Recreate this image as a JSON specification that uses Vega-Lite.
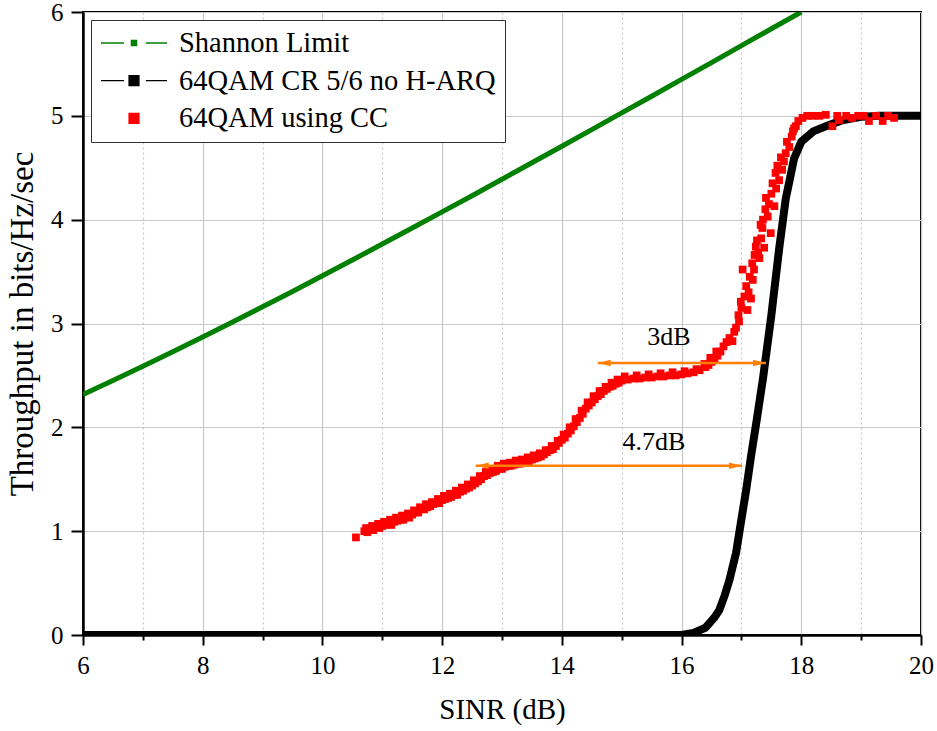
{
  "$schema": "https://vega.github.io/schema/vega-lite/v6.json",
  "autosize": {"type": "none"},
  "padding": {"left": 83, "top": 12, "right": 15, "bottom": 96},
  "width": 838,
  "height": 623,
  "background": "white",
  "config": {
    "view": {"stroke": "black", "strokeWidth": 2},
    "font": "Liberation Serif",
    "axis": {
      "labelFont": "Liberation Serif",
      "titleFont": "Liberation Serif",
      "labelColor": "black",
      "titleColor": "black",
      "titleFontWeight": "normal",
      "domainColor": "black",
      "domainWidth": 2.5,
      "tickColor": "black",
      "tickWidth": 2,
      "gridColor": "#c8c8c8",
      "gridWidth": 1.2
    }
  },
  "datasets": {
    "shannon": [
      {"x": 6, "y": 2.316}, {"x": 6.5, "y": 2.451}, {"x": 7, "y": 2.588}, {"x": 7.5, "y": 2.728},
      {"x": 8, "y": 2.870}, {"x": 8.5, "y": 3.014}, {"x": 9, "y": 3.161}, {"x": 9.5, "y": 3.309},
      {"x": 10, "y": 3.459}, {"x": 10.5, "y": 3.611}, {"x": 11, "y": 3.765}, {"x": 11.5, "y": 3.919},
      {"x": 12, "y": 4.075}, {"x": 12.5, "y": 4.231}, {"x": 13, "y": 4.389}, {"x": 13.5, "y": 4.548},
      {"x": 14, "y": 4.707}, {"x": 14.5, "y": 4.867}, {"x": 15, "y": 5.028}, {"x": 15.5, "y": 5.189},
      {"x": 16, "y": 5.351}, {"x": 16.5, "y": 5.513}, {"x": 17, "y": 5.676}, {"x": 17.5, "y": 5.839},
      {"x": 18, "y": 6.0}
    ],
    "black": [
      {"x": 6, "y": 0}, {"x": 16.0, "y": 0}, {"x": 16.2, "y": 0.02}, {"x": 16.4, "y": 0.07},
      {"x": 16.55, "y": 0.17}, {"x": 16.63, "y": 0.24}, {"x": 16.72, "y": 0.38}, {"x": 16.8, "y": 0.53},
      {"x": 16.91, "y": 0.79}, {"x": 16.99, "y": 1.08}, {"x": 17.08, "y": 1.4}, {"x": 17.16, "y": 1.72},
      {"x": 17.25, "y": 2.05}, {"x": 17.36, "y": 2.47}, {"x": 17.5, "y": 3.08}, {"x": 17.63, "y": 3.72},
      {"x": 17.74, "y": 4.2}, {"x": 17.88, "y": 4.59}, {"x": 18.0, "y": 4.75}, {"x": 18.2, "y": 4.85},
      {"x": 18.41, "y": 4.9}, {"x": 18.7, "y": 4.96}, {"x": 19.0, "y": 4.99}, {"x": 19.3, "y": 5.0},
      {"x": 20, "y": 5.0}
    ],
    "red": [
      {"x": 10.56, "y": 0.94}, {"x": 10.7, "y": 1.0}, {"x": 10.75, "y": 0.99}, {"x": 10.8, "y": 1.02},
      {"x": 10.85, "y": 1.01}, {"x": 10.9, "y": 1.04}, {"x": 10.95, "y": 1.03}, {"x": 11.0, "y": 1.05},
      {"x": 11.05, "y": 1.06}, {"x": 11.1, "y": 1.07}, {"x": 11.15, "y": 1.06}, {"x": 11.2, "y": 1.09},
      {"x": 11.25, "y": 1.1}, {"x": 11.3, "y": 1.11}, {"x": 11.35, "y": 1.11}, {"x": 11.4, "y": 1.14},
      {"x": 11.45, "y": 1.13}, {"x": 11.5, "y": 1.16}, {"x": 11.55, "y": 1.18}, {"x": 11.6, "y": 1.18},
      {"x": 11.65, "y": 1.21}, {"x": 11.7, "y": 1.21}, {"x": 11.75, "y": 1.23}, {"x": 11.8, "y": 1.24},
      {"x": 11.85, "y": 1.26}, {"x": 11.9, "y": 1.27}, {"x": 11.95, "y": 1.27}, {"x": 12.0, "y": 1.3},
      {"x": 12.05, "y": 1.31}, {"x": 12.1, "y": 1.32}, {"x": 12.15, "y": 1.33}, {"x": 12.2, "y": 1.35},
      {"x": 12.25, "y": 1.35}, {"x": 12.3, "y": 1.38}, {"x": 12.35, "y": 1.39}, {"x": 12.4, "y": 1.41},
      {"x": 12.45, "y": 1.42}, {"x": 12.5, "y": 1.44}, {"x": 12.55, "y": 1.46}, {"x": 12.6, "y": 1.48},
      {"x": 12.65, "y": 1.5}, {"x": 12.7, "y": 1.53}, {"x": 12.75, "y": 1.54}, {"x": 12.8, "y": 1.56},
      {"x": 12.85, "y": 1.57}, {"x": 12.9, "y": 1.58}, {"x": 12.95, "y": 1.6}, {"x": 13.0, "y": 1.6},
      {"x": 13.05, "y": 1.62}, {"x": 13.1, "y": 1.63}, {"x": 13.15, "y": 1.63}, {"x": 13.2, "y": 1.64},
      {"x": 13.25, "y": 1.65}, {"x": 13.3, "y": 1.65}, {"x": 13.35, "y": 1.66}, {"x": 13.4, "y": 1.67},
      {"x": 13.45, "y": 1.67}, {"x": 13.5, "y": 1.69}, {"x": 13.55, "y": 1.7}, {"x": 13.6, "y": 1.71},
      {"x": 13.65, "y": 1.72}, {"x": 13.7, "y": 1.74}, {"x": 13.75, "y": 1.76}, {"x": 13.8, "y": 1.78},
      {"x": 13.85, "y": 1.79}, {"x": 13.9, "y": 1.82}, {"x": 13.95, "y": 1.85}, {"x": 14.0, "y": 1.88},
      {"x": 14.05, "y": 1.9}, {"x": 14.1, "y": 1.94}, {"x": 14.15, "y": 1.97}, {"x": 14.2, "y": 2.01},
      {"x": 14.25, "y": 2.05}, {"x": 14.3, "y": 2.09}, {"x": 14.35, "y": 2.13}, {"x": 14.4, "y": 2.18},
      {"x": 14.45, "y": 2.21}, {"x": 14.5, "y": 2.24}, {"x": 14.55, "y": 2.27}, {"x": 14.6, "y": 2.3},
      {"x": 14.65, "y": 2.32}, {"x": 14.7, "y": 2.35}, {"x": 14.75, "y": 2.37}, {"x": 14.8, "y": 2.39},
      {"x": 14.85, "y": 2.4}, {"x": 14.9, "y": 2.42}, {"x": 14.95, "y": 2.43}, {"x": 15.0, "y": 2.45},
      {"x": 15.1, "y": 2.46}, {"x": 15.2, "y": 2.47}, {"x": 15.3, "y": 2.47}, {"x": 15.4, "y": 2.48},
      {"x": 15.5, "y": 2.48}, {"x": 15.6, "y": 2.49}, {"x": 15.7, "y": 2.49}, {"x": 15.8, "y": 2.5},
      {"x": 15.9, "y": 2.5}, {"x": 16.0, "y": 2.51}, {"x": 16.1, "y": 2.52}, {"x": 16.2, "y": 2.53},
      {"x": 16.3, "y": 2.55}, {"x": 16.4, "y": 2.58}, {"x": 16.45, "y": 2.6}, {"x": 16.5, "y": 2.63},
      {"x": 16.55, "y": 2.65}, {"x": 16.6, "y": 2.69}, {"x": 16.65, "y": 2.73}, {"x": 16.7, "y": 2.78},
      {"x": 16.75, "y": 2.82}, {"x": 16.8, "y": 2.86}, {"x": 16.85, "y": 2.83}, {"x": 16.88, "y": 2.92},
      {"x": 16.91, "y": 2.96}, {"x": 16.95, "y": 3.08}, {"x": 16.96, "y": 3.02}, {"x": 16.99, "y": 3.21},
      {"x": 17.0, "y": 3.15}, {"x": 17.02, "y": 3.52}, {"x": 17.05, "y": 3.26}, {"x": 17.08, "y": 3.36},
      {"x": 17.1, "y": 3.13}, {"x": 17.12, "y": 3.3}, {"x": 17.14, "y": 3.45}, {"x": 17.16, "y": 3.24},
      {"x": 17.18, "y": 3.58}, {"x": 17.19, "y": 3.42}, {"x": 17.21, "y": 3.52}, {"x": 17.22, "y": 3.66},
      {"x": 17.24, "y": 3.74}, {"x": 17.26, "y": 3.8}, {"x": 17.28, "y": 3.68}, {"x": 17.3, "y": 3.63},
      {"x": 17.32, "y": 3.95}, {"x": 17.33, "y": 3.82}, {"x": 17.35, "y": 3.92}, {"x": 17.36, "y": 4.0},
      {"x": 17.38, "y": 3.73}, {"x": 17.4, "y": 4.1}, {"x": 17.41, "y": 4.21}, {"x": 17.44, "y": 4.03},
      {"x": 17.46, "y": 4.15}, {"x": 17.49, "y": 3.87}, {"x": 17.5, "y": 4.25}, {"x": 17.52, "y": 4.35},
      {"x": 17.55, "y": 4.13}, {"x": 17.57, "y": 4.45}, {"x": 17.58, "y": 4.3}, {"x": 17.6, "y": 4.52},
      {"x": 17.63, "y": 4.38}, {"x": 17.66, "y": 4.6}, {"x": 17.68, "y": 4.48}, {"x": 17.71, "y": 4.56},
      {"x": 17.74, "y": 4.64}, {"x": 17.76, "y": 4.75}, {"x": 17.8, "y": 4.7}, {"x": 17.84, "y": 4.8},
      {"x": 17.86, "y": 4.85}, {"x": 17.88, "y": 4.88}, {"x": 17.91, "y": 4.9}, {"x": 17.95, "y": 4.95},
      {"x": 18.02, "y": 4.98}, {"x": 18.1, "y": 5.0}, {"x": 18.19, "y": 5.0}, {"x": 18.3, "y": 5.0},
      {"x": 18.41, "y": 5.01}, {"x": 18.52, "y": 4.9}, {"x": 18.6, "y": 5.0}, {"x": 18.63, "y": 4.96},
      {"x": 18.75, "y": 5.0}, {"x": 18.85, "y": 4.98}, {"x": 18.95, "y": 5.0}, {"x": 19.05, "y": 5.0},
      {"x": 19.13, "y": 4.95}, {"x": 19.25, "y": 5.0}, {"x": 19.36, "y": 4.95}, {"x": 19.45, "y": 5.0},
      {"x": 19.55, "y": 4.98},
      {"x": 10.73, "y": 1.03}, {"x": 10.83, "y": 1.05}, {"x": 10.93, "y": 1.07}, {"x": 11.03, "y": 1.09},
      {"x": 11.13, "y": 1.11}, {"x": 11.23, "y": 1.13}, {"x": 11.33, "y": 1.15}, {"x": 11.43, "y": 1.17},
      {"x": 11.53, "y": 1.2}, {"x": 11.63, "y": 1.23}, {"x": 11.73, "y": 1.26}, {"x": 11.83, "y": 1.28},
      {"x": 11.93, "y": 1.31}, {"x": 12.03, "y": 1.34}, {"x": 12.13, "y": 1.36}, {"x": 12.23, "y": 1.39},
      {"x": 12.33, "y": 1.42}, {"x": 12.43, "y": 1.45}, {"x": 12.53, "y": 1.49}, {"x": 12.63, "y": 1.53},
      {"x": 12.73, "y": 1.57}, {"x": 12.83, "y": 1.6}, {"x": 12.93, "y": 1.63}, {"x": 13.03, "y": 1.65},
      {"x": 13.13, "y": 1.66}, {"x": 13.23, "y": 1.68}, {"x": 13.33, "y": 1.69}, {"x": 13.43, "y": 1.71},
      {"x": 13.53, "y": 1.73}, {"x": 13.63, "y": 1.75}, {"x": 13.73, "y": 1.78}, {"x": 13.83, "y": 1.82},
      {"x": 13.93, "y": 1.87}, {"x": 14.03, "y": 1.93}, {"x": 14.13, "y": 2.0}, {"x": 14.23, "y": 2.08},
      {"x": 14.33, "y": 2.16}, {"x": 14.43, "y": 2.24}, {"x": 14.53, "y": 2.3}, {"x": 14.63, "y": 2.35},
      {"x": 14.73, "y": 2.39}, {"x": 14.83, "y": 2.43}, {"x": 14.93, "y": 2.46}, {"x": 15.05, "y": 2.49},
      {"x": 15.25, "y": 2.5}, {"x": 15.45, "y": 2.51}, {"x": 15.65, "y": 2.52}, {"x": 15.85, "y": 2.53},
      {"x": 16.05, "y": 2.54}, {"x": 16.25, "y": 2.56}, {"x": 16.38, "y": 2.61}, {"x": 16.48, "y": 2.67},
      {"x": 16.58, "y": 2.73}
    ],
    "arrows": [
      {"x1": 14.6, "x2": 17.41, "y": 2.62},
      {"x1": 12.56, "x2": 17.01, "y": 1.63}
    ],
    "notes": [
      {"x": 15.79, "y": 2.87, "text": "3dB"},
      {"x": 15.54, "y": 1.86, "text": "4.7dB"}
    ]
  },
  "encoding": {
    "x": {
      "type": "quantitative",
      "scale": {"domain": [6, 20], "nice": false, "zero": false},
      "axis": {
        "title": "SINR (dB)",
        "titleFont": "Liberation Serif",
        "titleFontSize": 29,
        "titlePadding": 17,
        "labelFont": "Liberation Serif",
        "labelFontSize": 25,
        "labelPadding": 8,
        "format": "d",
        "values": [6, 7, 8, 9, 10, 11, 12, 13, 14, 15, 16, 17, 18, 19, 20],
        "labelExpr": "datum.value % 2 === 0 ? datum.label : ''",
        "tickSize": {"condition": {"test": "datum.value % 2 !== 0", "value": 5}, "value": 10},
        "gridDash": {"condition": {"test": "datum.value % 2 !== 0", "value": [2, 3]}, "value": []},
        "labelFlush": false,
        "labelOverlap": false
      }
    },
    "y": {
      "type": "quantitative",
      "scale": {"domain": [0, 6], "nice": false, "zero": false},
      "axis": {
        "title": "Throughput in bits/Hz/sec",
        "titleFont": "Liberation Serif",
        "titleFontSize": 33,
        "titlePadding": 11,
        "labelFont": "Liberation Serif",
        "labelFontSize": 25,
        "labelPadding": 8,
        "format": "d",
        "values": [0, 0.5, 1, 1.5, 2, 2.5, 3, 3.5, 4, 4.5, 5, 5.5, 6],
        "labelExpr": "datum.value % 1 === 0 ? datum.label : ''",
        "tickSize": {"condition": {"test": "datum.value % 1 !== 0", "value": 6}, "value": 12},
        "gridDash": {"condition": {"test": "datum.value % 1 !== 0", "value": [2, 3]}, "value": []},
        "labelFlush": false,
        "labelOverlap": false
      }
    }
  },
  "layer": [
    {
      "data": {"name": "shannon"},
      "transform": [{"calculate": "'Shannon Limit'", "as": "series"}],
      "mark": {"type": "line", "strokeWidth": 5, "clip": true},
      "encoding": {
        "x": {"field": "x", "type": "quantitative"},
        "y": {"field": "y", "type": "quantitative"},
        "color": {
          "field": "series",
          "type": "nominal",
          "scale": {
            "domain": ["Shannon Limit", "64QAM CR 5/6 no H-ARQ", "64QAM using CC"],
            "range": ["#008000", "#000000", "#ff0000"]
          },
          "legend": {
            "title": null,
            "orient": "top-left",
            "offset": 8,
            "padding": 9,
            "symbolSize": 4356,
            "clipHeight": 28,
            "rowPadding": 8.7,
            "labelFontSize": 28.5,
            "labelFont": "Liberation Serif",
            "labelColor": "black",
            "labelOffset": 11,
            "labelLimit": 0,
            "strokeColor": "#333333",
            "fillColor": "white",
            "symbolStrokeWidth": 1.5,
            "encode": {
              "symbols": {
                "update": {
                  "shape": {"signal": "datum.value === '64QAM using CC' ? 'M-0.15,-0.15H0.15V0.15H-0.15Z' : (datum.value === 'Shannon Limit' ? 'M-1,0H-0.3M-0.08,-0.08H0.08V0.08H-0.08ZM0.36,0H1' : 'M-1,0H-0.3M-0.15,-0.15H0.15V0.15H-0.15ZM0.36,0H1')"},
                  "fill": {"signal": "scale('color', datum.value)"},
                  "stroke": {"signal": "scale('color', datum.value)"},
                  "strokeWidth": {"value": 1.3},
                  "opacity": {"value": 1}
                }
              }
            }
          }
        }
      }
    },
    {
      "data": {"name": "black"},
      "transform": [{"calculate": "'64QAM CR 5/6 no H-ARQ'", "as": "series"}],
      "mark": {"type": "line", "strokeWidth": 8, "clip": true},
      "encoding": {
        "x": {"field": "x", "type": "quantitative"},
        "y": {"field": "y", "type": "quantitative"},
        "color": {"field": "series", "type": "nominal"}
      }
    },
    {
      "data": {"name": "red"},
      "transform": [{"calculate": "'64QAM using CC'", "as": "series"}],
      "mark": {"type": "point", "shape": "square", "filled": true, "size": 60, "opacity": 1},
      "encoding": {
        "x": {"field": "x", "type": "quantitative"},
        "y": {"field": "y", "type": "quantitative"},
        "color": {"field": "series", "type": "nominal"}
      }
    },
    {
      "data": {"name": "arrows"},
      "mark": {"type": "rule", "color": "#ff8000", "strokeWidth": 2.5},
      "encoding": {
        "x": {"field": "x1", "type": "quantitative"},
        "x2": {"field": "x2"},
        "y": {"field": "y", "type": "quantitative"}
      }
    },
    {
      "data": {"name": "arrows"},
      "mark": {"type": "point", "shape": "M0,0L2,-0.5L2,0.5Z", "filled": true, "size": 169, "color": "#ff8000", "opacity": 1},
      "encoding": {
        "x": {"field": "x1", "type": "quantitative"},
        "y": {"field": "y", "type": "quantitative"}
      }
    },
    {
      "data": {"name": "arrows"},
      "mark": {"type": "point", "shape": "M0,0L-2,-0.5L-2,0.5Z", "filled": true, "size": 169, "color": "#ff8000", "opacity": 1},
      "encoding": {
        "x": {"field": "x2", "type": "quantitative"},
        "y": {"field": "y", "type": "quantitative"}
      }
    },
    {
      "data": {"name": "notes"},
      "mark": {"type": "text", "font": "Liberation Serif", "fontSize": 26, "color": "black", "baseline": "middle", "align": "center"},
      "encoding": {
        "x": {"field": "x", "type": "quantitative"},
        "y": {"field": "y", "type": "quantitative"},
        "text": {"field": "text"}
      }
    }
  ]
}
